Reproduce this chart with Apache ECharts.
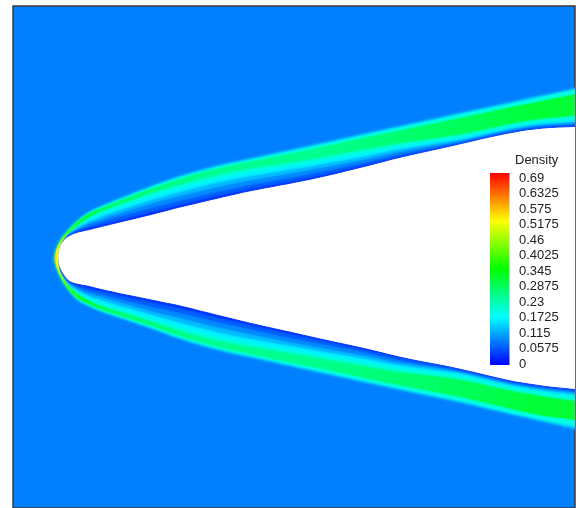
<!DOCTYPE html>
<html>
<head>
<meta charset="utf-8">
<style>
html,body{margin:0;padding:0;background:#fff;overflow:hidden}
#chart{width:576px;height:508px;filter:blur(0.6px)}
</style>
<script src="https://cdn.jsdelivr.net/npm/echarts@6/dist/echarts.min.js"></script>
</head>
<body>
<div id="chart"></div>
<script>
// Colour bar
const tickValues = [0, 0.0575, 0.115, 0.1725, 0.23, 0.2875, 0.345, 0.4025, 0.46, 0.5175, 0.575, 0.6325, 0.69];
const tickLabels = ['0', '0.0575', '0.115', '0.1725', '0.23', '0.2875', '0.345', '0.4025', '0.46', '0.5175', '0.575', '0.6325', '0.69'];
const colorDensity = [0, 0.1725, 0.345, 0.5175, 0.69];
const colorRamp = [[0, 0, 255], [0, 255, 255], [0, 255, 0], [255, 255, 0], [255, 0, 0]];

// Density of the free stream and of each contour, outermost (shock) to innermost (body)
const freeStreamDensity = 0.0866;
const contourDensity = [0.1, 0.135, 0.19, 'peak', 0.2, 0.165, 0.13, 0.095, 0.065, 0.035, null];
// Ridge density read along the shock layer
const peakX = [54, 57, 62, 70, 85, 110, 200, 320, 400, 480, 540, 576];
const peakDensity = [0.58, 0.52, 0.45, 0.39, 0.32, 0.28, 0.25, 0.25, 0.27, 0.29, 0.31, 0.31];

// Contour nose positions
const noseY = 258;
const noseX = [54, 54.3, 54.6, 55, 57.2, 57.5, 57.7, 57.8, 57.9, 58, 58.3];

// High-density crescent wrapped round the nose
const crescentX = [72, 65, 60, 56, 54.8, 56, 60, 65, 72, 65, 60, 58.3, 60, 65];
const crescentY = [227, 235, 241.8, 251, 258, 265, 275, 284, 293, 280.5, 271, 258, 246, 237.8];

// Stations along the flow and contour crossings at each station (last station lies past the frame)
const stationX = [56, 60, 65, 70, 77, 88, 100, 125, 150, 183, 217, 250, 310, 367, 400, 460, 507, 540, 576, 610];
const upperContours = [
  [250, 250.5, 251, 251.5, null, null, null, null, null, null, null],
  [241, 241.3, 241.6, 242, 245.5, 246, 246.3, 246.5, 246.7, 246.9, 247],
  [234, 234.3, 234.6, 235, 238, 238.5, 238.8, 239, 239.2, 239.4, 239.5],
  [228, 228.3, 228.7, 229.2, 232.5, 233.5, 234, 234.5, 235, 235.5, 236],
  [221, 221.4, 221.9, 222.5, 226.5, 228, 229, 230, 231, 232, 233],
  [212.5, 213, 213.7, 214.5, 218.5, 220.5, 222.5, 224.5, 226.5, 228.7, 230.5],
  [206.5, 207.1, 208, 209, 212.4, 214.9, 217.4, 220.2, 222.9, 225.8, 227.5],
  [196, 196.8, 197.8, 199.1, 203.1, 205.7, 208.8, 212.1, 215.6, 219.5, 221.5],
  [186, 186.9, 188.1, 189.5, 194.3, 196.9, 200.8, 204.3, 208.7, 213.1, 215.5],
  [174.5, 175.5, 176.8, 178.4, 184.3, 187.5, 191.4, 195.6, 200.5, 204.7, 207],
  [165, 166, 167.4, 169.1, 175.5, 178.9, 183, 187.4, 192.5, 196.6, 199],
  [158, 159, 160.3, 162, 169.1, 172.4, 176.4, 180.8, 185.5, 189.5, 191.5],
  [145, 146, 147.5, 149.9, 159.7, 163.2, 166.7, 170.2, 174.4, 178.3, 180],
  [132.5, 133.5, 134.9, 137.6, 149.5, 153.2, 156.3, 159.4, 162.4, 165.1, 166.5],
  [125.5, 126.5, 127.8, 130.7, 143.7, 147, 149.6, 152.2, 154.8, 157, 158],
  [112.5, 113.5, 114.7, 118.3, 134.9, 138.1, 140, 141.6, 142.9, 143.9, 144.5],
  [102.5, 103.4, 104.7, 108.2, 125.2, 128.3, 129.9, 131.2, 132.4, 133.4, 134],
  [95.3, 96.3, 97.7, 101.4, 119.6, 122.9, 124.6, 126, 127.3, 128.3, 129],
  [87.5, 88.7, 89.9, 94.2, 115.9, 119.9, 121.9, 123.4, 125, 126.2, 127],
  [80, 81.3, 82.5, 87, 109.5, 113.5, 117, 119, 121, 122.5, 125]
];
const lowerContours = [
  [266, 265.5, 265, 264.5, null, null, null, null, null, null, null],
  [276, 275.7, 275.4, 275, 271, 270, 269.5, 269, 268.5, 268, 267],
  [285, 284.7, 284.3, 284, 280, 279, 278.3, 277.8, 277.2, 276.6, 276],
  [292, 291.6, 291.2, 290.6, 286.5, 285, 284, 283.2, 282.5, 281.7, 281],
  [299.5, 299, 298.4, 297.5, 293, 291, 289.5, 288, 286.4, 284.8, 283.5],
  [306, 305.3, 304.5, 303.5, 299.5, 297.5, 295.5, 293, 290.5, 287.7, 285.5],
  [311.5, 310.8, 309.9, 308.7, 305, 302.3, 299.5, 296.5, 293.6, 290.3, 288.5],
  [320, 319.2, 318.2, 316.9, 312.7, 310.1, 307, 303.6, 300, 296.1, 294],
  [328.5, 327.7, 326.5, 325, 320.6, 317.9, 314, 310.4, 305.9, 301.4, 299],
  [340.5, 339.6, 338.3, 336.6, 331.2, 327.6, 323.3, 318.6, 313.2, 308.5, 306],
  [350.5, 349.4, 348, 346.3, 340, 336.3, 331.9, 327.1, 321.5, 317.1, 314.5],
  [358, 356.9, 355.5, 353.7, 346.3, 342.7, 338.5, 333.9, 328.9, 324.6, 322.5],
  [371, 370, 368.6, 366.1, 356.3, 352.8, 349.3, 345.8, 341.6, 337.8, 336],
  [383.5, 382.5, 381, 378.3, 366, 362.2, 359, 355.9, 352.7, 349.9, 348.5],
  [390.5, 389.5, 388.1, 385, 371.5, 368.1, 365.3, 362.6, 359.9, 357.5, 356.5],
  [403, 402, 400.6, 396.8, 378.9, 375.4, 373.3, 371.6, 370.2, 369.2, 368.5],
  [414, 413, 411.6, 407.8, 389.2, 385.7, 384, 382.6, 381.2, 380.2, 379.5],
  [421.5, 420.4, 419, 414.9, 395.2, 391.6, 389.7, 388.3, 386.8, 385.8, 385],
  [430, 428.5, 426, 420, 400.5, 396.4, 394.3, 392.7, 391, 389.8, 389],
  [437.5, 436, 434, 427, 405, 401, 398.5, 397, 395.5, 394, 392.5]
];

function rainbow(v) {
  let i = 0;
  while (i < colorDensity.length - 2 && v > colorDensity[i + 1]) i++;
  const f = Math.min(1, Math.max(0, (v - colorDensity[i]) / (colorDensity[i + 1] - colorDensity[i])));
  const c = colorRamp[i].map((a, k) => Math.round(a + (colorRamp[i + 1][k] - a) * f));
  return 'rgb(' + c.join(',') + ')';
}

function peakFill(api) {
  const x0 = api.coord([peakX[0], noseY])[0];
  const x1 = api.coord([peakX[peakX.length - 1], noseY])[0];
  return new echarts.graphic.LinearGradient(x0, 0, x1, 0, peakX.map((x, i) => ({
    offset: (x - peakX[0]) / (peakX[peakX.length - 1] - peakX[0]),
    color: rainbow(peakDensity[i])
  })), true);
}

function renderContour(params, api) {
  const k = api.value(0);
  const pts = [];
  for (let i = stationX.length - 1; i >= 0; i--) {
    if (upperContours[i][k] !== null) pts.push(api.coord([stationX[i], upperContours[i][k]]));
  }
  pts.push(api.coord([noseX[k], noseY]));
  for (let i = 0; i < stationX.length; i++) {
    if (lowerContours[i][k] !== null) pts.push(api.coord([stationX[i], lowerContours[i][k]]));
  }
  const d = contourDensity[k];
  const fill = d === 'peak' ? peakFill(api) : (d === null ? '#ffffff' : rainbow(d));
  const glow = d === 'peak' ? rainbow(peakDensity[6]) : fill;
  return {
    type: 'polygon',
    shape: { points: pts, smooth: 0.35 },
    style: { fill: fill, stroke: null, shadowBlur: d === null ? 1 : 3, shadowColor: glow }
  };
}

function renderCrescent(params, api) {
  return {
    type: 'polygon',
    shape: { points: crescentX.map((x, i) => api.coord([x, crescentY[i]])), smooth: 0.3 },
    style: { fill: peakFill(api), stroke: null }
  };
}

const chart = echarts.init(document.getElementById('chart'), null, { renderer: 'canvas' });
chart.setOption({
  animation: false,
  title: {
    text: 'Density', left: 510, top: 149, z: 10,
    textStyle: { fontFamily: 'Liberation Sans', fontSize: 13, fontWeight: 'normal', color: '#222' }
  },
  grid: [
    { left: 13, top: 6, width: 562, height: 502, show: true, backgroundColor: rainbow(freeStreamDensity), borderColor: '#3a3a3a', borderWidth: 1.5, z: 0 },
    { left: 490, top: 173, width: 19.5, height: 192, z: 5 },
    { left: 490, top: 178, width: 20, height: 186, z: 5 }
  ],
  xAxis: [
    { gridIndex: 0, type: 'value', min: 13, max: 575, show: false },
    { gridIndex: 1, type: 'category', data: ['Density'], show: false },
    { gridIndex: 2, type: 'value', min: 0, max: 1, show: false }
  ],
  yAxis: [
    { gridIndex: 0, type: 'value', inverse: true, min: 6, max: 508, show: false },
    { gridIndex: 1, type: 'value', min: 0, max: 0.69, show: false },
    {
      gridIndex: 2, type: 'value', min: 0, max: 0.69, interval: 0.0575, position: 'right', z: 10,
      axisLine: { show: false }, axisTick: { show: false }, splitLine: { show: false },
      axisLabel: {
        margin: 9, showMinLabel: true, showMaxLabel: true, hideOverlap: false,
        fontFamily: 'Liberation Sans', fontSize: 13, color: '#222',
        formatter: v => {
          const i = tickValues.findIndex(t => Math.abs(t - v) < 1e-6);
          return i < 0 ? '' : tickLabels[i];
        }
      }
    }
  ],
  series: [
    {
      type: 'custom', xAxisIndex: 0, yAxisIndex: 0, coordinateSystem: 'cartesian2d',
      clip: true, silent: true, renderItem: renderContour, z: 2,
      encode: { x: 1, y: 2 },
      data: contourDensity.map((d, k) => [k, 300, 250])
    },
    {
      type: 'custom', xAxisIndex: 0, yAxisIndex: 0, coordinateSystem: 'cartesian2d',
      clip: true, silent: true, renderItem: renderCrescent, z: 3,
      encode: { x: 0, y: 1 },
      data: [[crescentX[4], crescentY[4]]]
    },
    {
      type: 'bar', xAxisIndex: 1, yAxisIndex: 1, barWidth: '100%', silent: true, z: 6,
      data: [tickValues[tickValues.length - 1]],
      itemStyle: {
        color: new echarts.graphic.LinearGradient(0, 1, 0, 0,
          colorDensity.map((d, i) => ({ offset: d / colorDensity[colorDensity.length - 1], color: rainbow(d) })))
      }
    }
  ]
});
</script>
</body>
</html>
